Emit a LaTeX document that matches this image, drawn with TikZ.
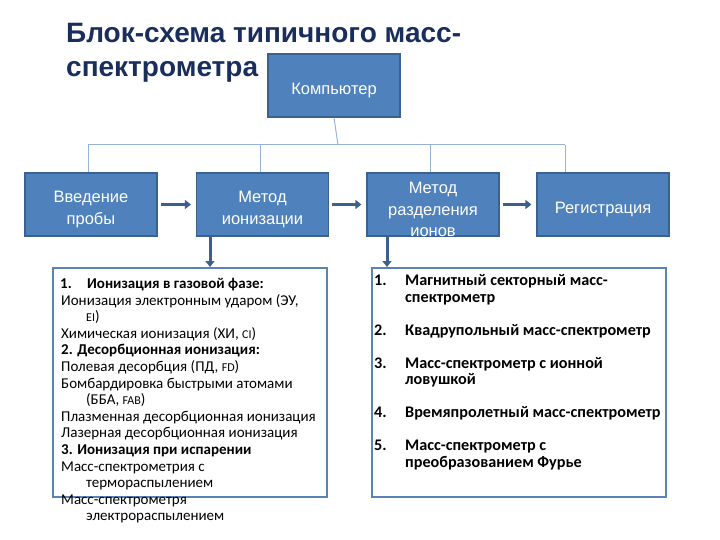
\documentclass[tikz,border=0pt]{standalone}
\usepackage{fontspec}
\setmainfont{Liberation Sans}
\newfontfamily\carl{Carlito}
\usetikzlibrary{arrows.meta}
\definecolor{boxfill}{HTML}{4F81BD}
\definecolor{boxline}{HTML}{3A6190}
\definecolor{thinline}{HTML}{95B3D7}
\definecolor{arrcol}{HTML}{3C5F8E}
\definecolor{titlecol}{HTML}{1A2E5E}
\definecolor{listline}{HTML}{5A84B8}
\tikzset{
  bluebox/.style={draw=boxline, line width=1.2pt, fill=boxfill,
    minimum width=132pt, minimum height=63pt, inner sep=0pt},
  boxlabel/.style={text=white, inner sep=0pt, align=center,
    font=\fontsize{16.5}{21.5}\selectfont},
  thin/.style={draw=thinline, line width=1pt},
  flowarr/.style={draw=arrcol, line width=3pt, -{Triangle[length=6pt,width=9pt]}},
  listbox/.style={draw=listline, line width=2pt, minimum width=274pt, minimum height=229pt, inner sep=0pt},
  listtext/.style={anchor=north west, inner sep=0pt, align=left, text=black}
}
\newcommand{\sm}[1]{{\fontsize{12}{16.6}\selectfont #1}}
\begin{document}
\begin{tikzpicture}[x=1pt,y=-1pt]
\useasboundingbox (0,0) rectangle (720,540);
% title
\node[anchor=west, inner sep=0pt, text=titlecol, align=left,
      font=\bfseries\fontsize{28}{34}\selectfont] (title) at (66,53)
  {Блок-схема типичного масс-\\спектрометра};
% boxes
\node[bluebox] (comp) at (334,85.5) {};
\node[bluebox] (intro) at (91,204.5) {};
\node[bluebox] (ion) at (262.5,204.5) {};
\node[bluebox] (sep) at (433,204.5) {};
\node[bluebox] (reg) at (603,204.5) {};
\node[boxlabel] (compl) at ([yshift=-5.5pt]comp.center) {Компьютер};
\node[boxlabel] (introl) at ([yshift=-5pt]intro.center) {Введение\\пробы};
\node[boxlabel] (ionl) at ([yshift=-5pt]ion.center) {Метод\\ионизации};
\node[boxlabel] (sepl) at ([yshift=-5pt]sep.center) {Метод\\разделения\\ионов};
\node[boxlabel] (regl) at ([yshift=-5.5pt]reg.center) {Регистрация};
% connector tree
\coordinate (bus) at (338,145);
\coordinate (b1) at (88,145);
\coordinate (b2) at (260,145);
\coordinate (b3) at (430,145);
\coordinate (b4) at (565,145);
\draw[thin] (comp.south) -- (bus);
\draw[thin] (b1) -- (b4);
\draw[thin] (b1) -- (b1 |- intro.north);
\draw[thin] (b2) -- (b2 |- ion.north);
\draw[thin] (b3) -- (b3 |- sep.north);
\draw[thin] (b4) -- (b4 |- reg.north);
% horizontal arrows
\draw[flowarr] ([xshift=3pt]intro.east) -- ([xshift=-5pt]ion.west);
\draw[flowarr] ([xshift=3pt]ion.east) -- ([xshift=-5pt]sep.west);
\draw[flowarr] ([xshift=3pt]sep.east) -- ([xshift=-5pt]reg.west);
% list boxes
\node[listbox] (lbox) at (190,382.5) {};
\node[listbox, minimum width=294pt] (rbox) at (519,382.5) {};
% down arrows
\coordinate (d1) at (210,0);
\coordinate (d2) at (387,0);
\draw[flowarr] (d1 |- ion.south) -- (d1 |- lbox.north);
\draw[flowarr] (d2 |- sep.south) -- (d2 |- rbox.north);
% left list text
\node[listtext, font=\carl\fontsize{15}{16.6}\selectfont] (ltext) at (60,278) {%
\textbf{\makebox[27pt][l]{1.}Ионизация в газовой фазе:}\\
\hspace{1pt}Ионизация электронным ударом (ЭУ,\\
\hspace{26pt}\sm{EI})\\
\hspace{1pt}Химическая ионизация (ХИ, \sm{CI})\\
\hspace{1pt}\textbf{2. Десорбционная ионизация:}\\
\hspace{1pt}Полевая десорбция (ПД, \sm{FD})\\
\hspace{1pt}Бомбардировка быстрыми атомами\\
\hspace{26pt}(ББА, \sm{FAB})\\
\hspace{1pt}Плазменная десорбционная ионизация\\
\hspace{1pt}Лазерная десорбционная ионизация\\
\hspace{1pt}\textbf{3. Ионизация при испарении}\\
\hspace{1pt}Масс-спектрометрия с\\
\hspace{26pt}термораспылением\\
\hspace{1pt}Масс-спектрометря\\
\hspace{26pt}электрораспылением};
% right list text
\node[listtext, font=\carl\bfseries\fontsize{16.2}{16.5}\selectfont] (rtext) at (374,274.5) {%
\makebox[31pt][l]{1.}Магнитный секторный масс-\\
\hspace{31pt}спектрометр\\[16.5pt]
\makebox[31pt][l]{2.}Квадрупольный масс-спектрометр\\[16.5pt]
\makebox[31pt][l]{3.}Масс-спектрометр с ионной\\
\hspace{31pt}ловушкой\\[16.5pt]
\makebox[31pt][l]{4.}Времяпролетный масс-спектрометр\\[16.5pt]
\makebox[31pt][l]{5.}Масс-спектрометр с\\
\hspace{31pt}преобразованием Фурье};
\end{tikzpicture}
\end{document}
